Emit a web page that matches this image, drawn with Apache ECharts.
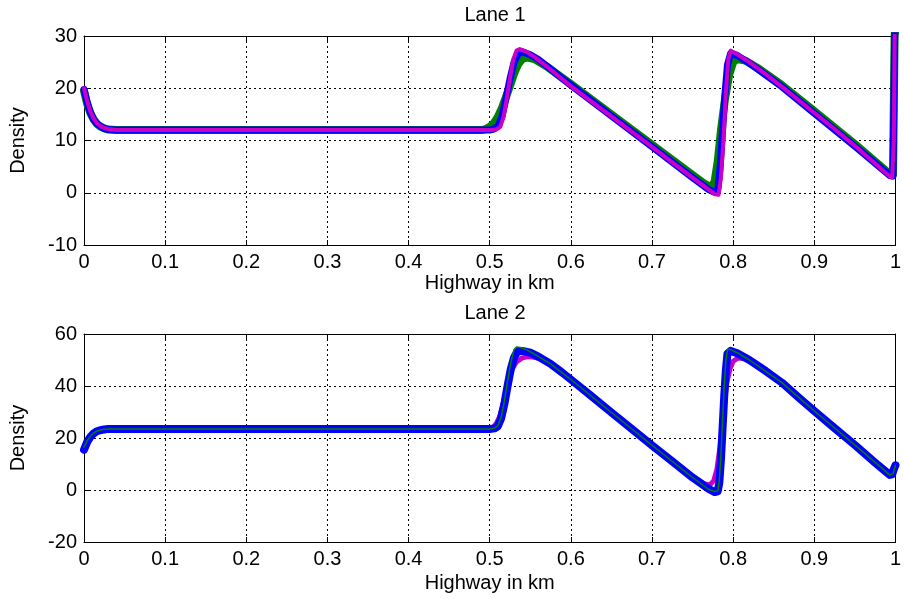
<!DOCTYPE html>
<html><head><meta charset="utf-8">
<script src="https://cdn.jsdelivr.net/npm/echarts@6/dist/echarts.min.js"></script>
<style>html,body{margin:0;padding:0;background:#fff}#c{width:904px;height:599px}</style>
</head><body><div id="c"></div>
<script>
var xTicks = [0,0.1,0.2,0.3,0.4,0.5,0.6,0.7,0.8,0.9,1];
var titles = ['Lane 1','Lane 2'];
var xLabel = 'Highway in km';
var yLabel = 'Density';
var lane1Y = {min:-10,max:30,interval:10};
var lane2Y = {min:-20,max:60,interval:20};

var lane1Green = [[0,19.5],[0.004,17],[0.008,15.2],[0.012,14],[0.016,13.2],[0.02,12.7],[0.025,12.3],[0.03,12.1],[0.04,12],[0.49,12],[0.495,12.2],[0.5,12.6],[0.505,13.3],[0.51,14.5],[0.515,16.2],[0.52,18.3],[0.525,20.5],[0.53,22.8],[0.535,24.6],[0.54,25.6],[0.545,25.9],[0.555,25.6],[0.57,24.2],[0.585,22.5],[0.6,20.8],[0.65,15],[0.7,9.2],[0.75,3.4],[0.765,1.7],[0.772,1.1],[0.777,2],[0.781,6],[0.785,12],[0.79,18],[0.795,22.5],[0.8,25],[0.805,25.6],[0.815,25.3],[0.83,23.9],[0.86,20.6],[0.9,15.6],[0.95,9.3],[0.993,3.6],[0.997,3.5],[0.999,30],[1,32]];
var lane1Blue = [[0,19.8],[0.004,17.2],[0.008,15.3],[0.012,14],[0.016,13.2],[0.02,12.7],[0.025,12.3],[0.03,12.1],[0.04,12],[0.5,12],[0.505,12.2],[0.51,12.7],[0.515,14.5],[0.52,18],[0.525,21.8],[0.53,25],[0.535,26.6],[0.54,27],[0.55,26.4],[0.56,25.5],[0.575,23.7],[0.59,21.8],[0.6,20.6],[0.65,14.7],[0.7,8.8],[0.75,2.9],[0.77,0.6],[0.777,0.1],[0.781,0.5],[0.784,5],[0.787,12],[0.79,19],[0.793,24.5],[0.797,26.7],[0.805,26.3],[0.82,24.8],[0.86,20.3],[0.9,15.2],[0.95,8.9],[0.993,3.3],[0.997,3.2],[0.999,30],[1,32]];
var lane1Magenta = [[0,20],[0.004,17.5],[0.008,15.5],[0.012,14.2],[0.016,13.3],[0.02,12.8],[0.025,12.4],[0.03,12.2],[0.04,12],[0.5,12],[0.508,12.1],[0.513,12.6],[0.517,14.5],[0.521,18],[0.525,22],[0.529,25.5],[0.533,27.2],[0.537,27.5],[0.545,27],[0.555,26],[0.57,24.2],[0.585,22.3],[0.6,20.4],[0.625,17.5],[0.65,14.6],[0.675,11.7],[0.7,8.8],[0.725,5.8],[0.75,2.9],[0.77,0.6],[0.778,-0.3],[0.782,-0.4],[0.785,3],[0.788,10],[0.791,19],[0.794,25.5],[0.797,27.2],[0.805,26.5],[0.82,25],[0.84,22.7],[0.86,20.3],[0.88,17.8],[0.9,15.3],[0.925,12.2],[0.95,9],[0.975,5.6],[0.993,3.1],[0.996,2.9],[0.998,10],[0.999,30],[1,32]];

var lane2Magenta = [[0,16],[0.004,18.8],[0.008,20.7],[0.012,21.9],[0.016,22.7],[0.02,23.1],[0.025,23.4],[0.03,23.5],[0.5,23.5],[0.504,24],[0.508,25.5],[0.512,28],[0.516,32.5],[0.52,38],[0.524,43],[0.528,46.8],[0.533,49.3],[0.54,50.8],[0.548,51.3],[0.556,51],[0.565,50],[0.58,47],[0.6,42.3],[0.65,29.8],[0.7,17.4],[0.75,5.3],[0.765,2.3],[0.771,1.9],[0.776,3.5],[0.78,8],[0.784,17],[0.788,30],[0.792,41],[0.796,46.5],[0.8,49.5],[0.806,50.8],[0.815,50.5],[0.83,48.2],[0.86,41.5],[0.9,30.6],[0.95,17.4],[0.993,6],[0.997,6.5],[1,9.5]];
var lane2Blue = [[0,15.5],[0.004,18.5],[0.008,20.5],[0.012,21.8],[0.016,22.6],[0.02,23],[0.025,23.3],[0.03,23.5],[0.5,23.5],[0.506,23.7],[0.51,24.5],[0.514,27.5],[0.518,33],[0.522,40],[0.526,46.5],[0.53,51],[0.534,53.2],[0.54,53.5],[0.55,52.8],[0.56,51.3],[0.575,48.5],[0.59,45],[0.6,42.5],[0.625,36.2],[0.65,29.8],[0.675,23.5],[0.7,17.2],[0.725,11],[0.75,4.8],[0.77,0.4],[0.777,-0.8],[0.781,-0.5],[0.783,3],[0.785,12],[0.787,24],[0.789,36],[0.791,46],[0.793,52.5],[0.797,53.5],[0.805,52.6],[0.82,50],[0.84,45.8],[0.86,41.3],[0.88,35.8],[0.9,30.4],[0.925,23.8],[0.95,17.3],[0.975,10.5],[0.993,5.8],[0.996,6],[0.998,8],[1,9.5]];
var lane2Green = [[0,16.5],[0.004,19],[0.008,20.8],[0.012,22],[0.016,22.7],[0.02,23.1],[0.025,23.4],[0.03,23.5],[0.5,23.5],[0.506,23.8],[0.51,24.8],[0.514,28],[0.518,34],[0.522,42],[0.526,49],[0.53,54],[0.533,55],[0.538,54.8],[0.545,54],[0.555,52.3],[0.575,48.5],[0.6,42.5],[0.65,29.8],[0.7,17.2],[0.75,4.8],[0.77,0.2],[0.778,-0.6],[0.781,-0.3],[0.783,4],[0.785,14],[0.787,27],[0.789,40],[0.791,50],[0.793,54],[0.797,54],[0.805,52.8],[0.82,50],[0.86,41.3],[0.9,30.4],[0.95,17.3],[0.993,5.8],[0.997,6.2],[1,9.5]];

var FONT = 'Liberation Sans, Arial, sans-serif';
var FS = 20;
var grids = [
  {left:83, right:7, top:36, height:209},
  {left:83, right:7, top:334, height:208}
];
function xAx(gi, pos, show, gap) {
  return {type:'value', gridIndex:gi, min:0, max:1, interval:0.1, position:pos,
    name: show ? xLabel : '', nameLocation:'middle', nameGap:gap,
    nameTextStyle:{fontFamily:FONT, fontSize:FS, color:'#000'},
    axisLine:{show:true, onZero:false, lineStyle:{color:'#000', width:1}},
    axisTick:{show:true, inside:true, length:5, lineStyle:{color:'#000'}},
    axisLabel:{show:show, margin:7, fontFamily:FONT, fontSize:FS, color:'#000',
      formatter:function(v){ return String(Math.round(v*10)/10); }},
    splitLine:{show:show, lineStyle:{color:'#000', type:[2,3], width:1}}};
}
function yAx(gi, pos, show, r) {
  return {type:'value', gridIndex:gi, min:r.min, max:r.max, interval:r.interval, position:pos,
    name: show ? yLabel : '', nameLocation:'middle', nameGap:56,
    nameTextStyle:{fontFamily:FONT, fontSize:FS, color:'#000'},
    axisLine:{show:true, onZero:false, lineStyle:{color:'#000', width:1}},
    axisTick:{show:true, inside:true, length:5, lineStyle:{color:'#000'}},
    axisLabel:{show:show, margin:7, fontFamily:FONT, fontSize:FS, color:'#000'},
    splitLine:{show:show, lineStyle:{color:'#000', type:[2,3], width:1}}};
}
function ser(data, color, width, xi, yi) {
  return {type:'line', data:data, xAxisIndex:xi, yAxisIndex:yi, symbol:'none', smooth:false,
    lineStyle:{color:color, width:width, join:'round', cap:'round'}, animation:false, clip:true, z:2};
}
var GREEN = '#008000', BLUE = '#0000ff', MAG = '#c800c8';
var option = {
  backgroundColor:'#fff',
  animation:false,
  title: [
    {text:titles[0], left:490, top:0, textAlign:'center', textStyle:{fontFamily:FONT, fontSize:FS, fontWeight:'normal', color:'#000'}},
    {text:titles[1], left:490, top:298, textAlign:'center', textStyle:{fontFamily:FONT, fontSize:FS, fontWeight:'normal', color:'#000'}}
  ],
  grid: grids,
  xAxis: [xAx(0,'bottom',true,28), xAx(0,'top',false,0), xAx(1,'bottom',true,31), xAx(1,'top',false,0)],
  yAxis: [yAx(0,'left',true,lane1Y), yAx(0,'right',false,lane1Y), yAx(1,'left',true,lane2Y), yAx(1,'right',false,lane2Y)],
  series: [
    ser(lane1Green, GREEN, 8, 0, 0),
    ser(lane1Blue, BLUE, 7, 0, 0),
    ser(lane1Magenta, MAG, 4, 0, 0),
    ser(lane2Magenta, MAG, 5, 2, 2),
    ser(lane2Blue, BLUE, 8, 2, 2),
    ser(lane2Green, GREEN, 1.5, 2, 2)
  ]
};
var chart = echarts.init(document.getElementById('c'), null, {renderer:'canvas'});
chart.setOption(option);
</script></body></html>
